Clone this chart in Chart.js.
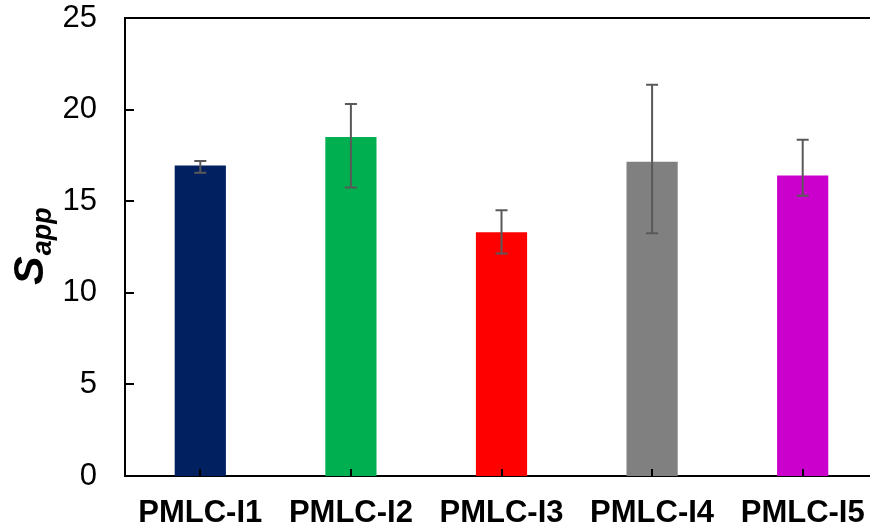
<!DOCTYPE html>
<html>
<head>
<meta charset="utf-8">
<script src="https://cdn.jsdelivr.net/npm/chart.js@4"></script>
<style>
  html, body { margin: 0; padding: 0; background: #fff; overflow: hidden; }
  #wrap { width: 878px; height: 531px; }
</style>
</head>
<body>
<div id="wrap"><canvas id="sappChart" width="878" height="531"></canvas></div>
<script>
// Datos del gráfico
const categorias = ['PMLC-I1', 'PMLC-I2', 'PMLC-I3', 'PMLC-I4', 'PMLC-I5'];
const valores = [16.95, 18.5, 13.3, 17.15, 16.4];
const errorArriba = [0.25, 1.8, 1.2, 4.2, 1.95];
const errorAbajo = [0.4, 2.75, 1.15, 3.9, 1.1];
const colores = ['#002060', '#00B050', '#FF0000', '#808080', '#CC00CC'];
const ticksY = [0, 5, 10, 15, 20, 25];

const fuente = "'Liberation Sans', Arial, sans-serif";

// Barras de error dibujadas con las escalas del gráfico
const barrasError = {
    id: 'barrasError',
    afterDatasetsDraw(chart) {
        const ctx = chart.ctx;
        const x = chart.scales.x;
        const y = chart.scales.y;
        ctx.save();
        ctx.strokeStyle = '#595959';
        ctx.lineWidth = 2;
        valores.forEach((v, i) => {
            const px = x.getPixelForValue(i);
            const top = y.getPixelForValue(v + errorArriba[i]);
            const bot = y.getPixelForValue(v - errorAbajo[i]);
            ctx.beginPath();
            ctx.moveTo(px, top);
            ctx.lineTo(px, bot);
            ctx.moveTo(px - 6, top);
            ctx.lineTo(px + 6, top);
            ctx.moveTo(px - 6, bot);
            ctx.lineTo(px + 6, bot);
            ctx.stroke();
        });
        ctx.restore();
    }
};

// Marco superior, marcas hacia dentro y título del eje Y con subíndice
const marcoYTitulo = {
    id: 'marcoYTitulo',
    afterDraw(chart) {
        const ctx = chart.ctx;
        const area = chart.chartArea;
        const x = chart.scales.x;
        const y = chart.scales.y;
        ctx.save();
        ctx.strokeStyle = '#000';
        ctx.lineWidth = 2;
        ctx.beginPath();
        ctx.moveTo(area.left - 1, area.top);
        ctx.lineTo(chart.width, area.top);
        y.ticks.forEach((t, i) => {
            const py = Math.round(y.getPixelForTick(i));
            ctx.moveTo(area.left, py);
            ctx.lineTo(area.left + 9, py);
        });
        x.ticks.forEach((t, i) => {
            const px = Math.round(x.getPixelForTick(i));
            ctx.moveTo(px, area.bottom);
            ctx.lineTo(px, area.bottom - 7);
        });
        ctx.stroke();

        ctx.translate(43, 285);
        ctx.rotate(-Math.PI / 2);
        ctx.fillStyle = '#000';
        ctx.textBaseline = 'alphabetic';
        ctx.textAlign = 'left';
        ctx.font = 'italic bold 43px ' + fuente;
        ctx.fillText('S', 0, 0);
        const w = ctx.measureText('S').width;
        ctx.font = 'italic bold 27px ' + fuente;
        ctx.fillText('app', w + 1, 8);
        ctx.restore();
    }
};

const ctxSapp = document.getElementById('sappChart');
new Chart(ctxSapp, {
    type: 'bar',
    data: {
        labels: categorias,
        datasets: [{
            data: valores,
            backgroundColor: colores,
            borderWidth: 0,
            categoryPercentage: 1,
            barPercentage: 0.34
        }]
    },
    options: {
        responsive: false,
        animation: false,
        layout: { padding: { top: 18, left: 0, right: 0, bottom: 0 } },
        plugins: {
            legend: { display: false },
            tooltip: { enabled: false }
        },
        scales: {
            x: {
                afterFit: (scale) => {
                    scale.height = 55;
                    scale.paddingLeft = 0;
                    scale.paddingRight = 0;
                },
                grid: { display: false, drawTicks: false, offset: false },
                border: { display: true, color: '#000', width: 2 },
                ticks: {
                    color: '#000',
                    padding: 22,
                    font: { family: fuente, size: 31, weight: 'bold', lineHeight: 1 }
                }
            },
            y: {
                min: 0,
                max: 25,
                afterFit: (scale) => {
                    scale.width = 125;
                    scale.paddingTop = 0;
                    scale.paddingBottom = 0;
                },
                afterBuildTicks: (scale) => {
                    scale.ticks = ticksY.map(v => ({ value: v }));
                },
                grid: { display: false, drawTicks: false },
                border: { display: true, color: '#000', width: 2 },
                ticks: {
                    color: '#000',
                    padding: 28,
                    font: { family: fuente, size: 31, lineHeight: 1 }
                }
            }
        }
    },
    plugins: [barrasError, marcoYTitulo]
});
</script>
</body>
</html>
